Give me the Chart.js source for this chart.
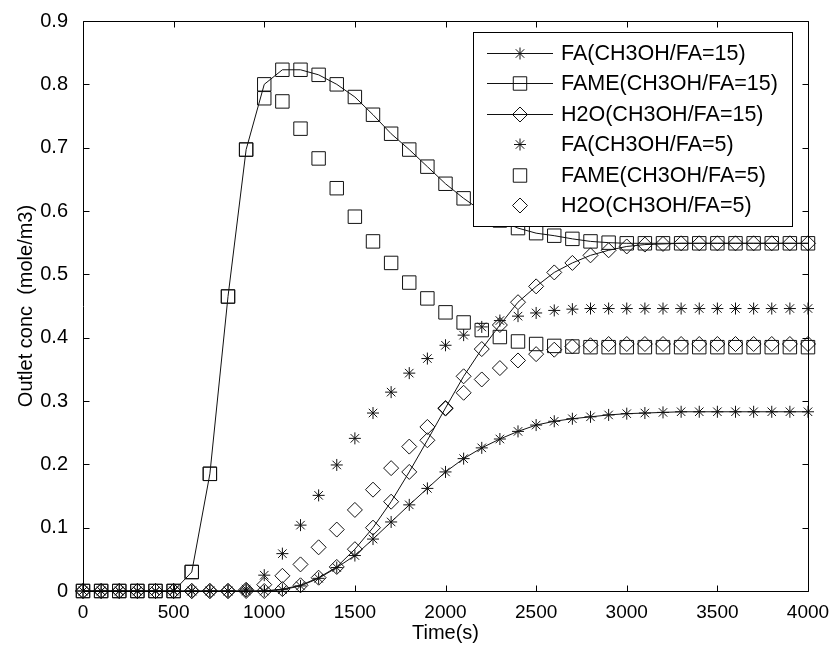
<!DOCTYPE html>
<html lang="en">
<head>
    <meta charset="UTF-8">
    <title>Outlet concentration</title>
    <script src="https://cdn.jsdelivr.net/npm/chart.js"></script>
    <style>
        body { margin: 0; background: #fff; }
        canvas { display: block; }
    </style>
</head>
<body>
    <canvas id="concChart" width="834" height="651"></canvas>
    <script>
        // time points, every 100 s
        const times = [];
        for (let t = 0; t <= 4000; t += 100) times.push(t);

        const fa15 = [0,0,0,0,0,0,0,0,0,0,0,
            0.002,0.008,0.02,0.037,0.056,0.082,0.109,0.136,0.162,0.188,0.209,
            0.226,0.24,0.252,0.262,0.268,0.272,0.275,0.278,0.28,0.281,0.282,
            0.283,0.283,0.283,0.283,0.283,0.283,0.283,0.283];
        const fame15 = [0,0,0,0,0,0,
            0.03,0.185,0.465,0.697,0.80,0.823,0.823,0.815,0.80,0.78,0.752,
            0.722,0.697,0.67,0.643,0.62,0.60,0.585,0.573,0.565,0.561,0.556,
            0.552,0.55,0.549,0.549,0.549,0.549,0.549,0.549,0.549,0.549,0.549,0.549,0.549];
        const h2o15 = [0,0,0,0,0,0,0,0,0,0,0,
            0.003,0.009,0.021,0.038,0.066,0.1,0.141,0.188,0.238,0.289,0.339,
            0.382,0.42,0.456,0.481,0.503,0.518,0.53,0.538,0.544,0.547,0.548,
            0.549,0.549,0.549,0.549,0.549,0.549,0.549,0.549];
        const fa5 = [0,0,0,0,0,0,0,0,0,
            0.003,0.025,0.059,0.104,0.151,0.199,0.241,0.281,0.314,0.344,0.367,
            0.388,0.404,0.417,0.427,0.434,0.439,0.443,0.445,
            0.446,0.446,0.446,0.446,0.446,0.446,0.446,0.446,0.446,0.446,0.446,0.446,0.446];
        const fame5 = [0,0,0,0,0,0,
            0.03,0.185,0.465,0.697,0.778,0.773,0.73,0.683,0.636,0.591,0.552,
            0.518,0.487,0.462,0.44,0.424,0.412,0.401,0.394,0.39,0.387,0.386,
            0.385,0.385,0.385,0.385,0.385,0.385,0.385,0.385,0.385,0.385,0.385,0.385,0.385];
        const h2o5 = [0,0,0,0,0,0,0,0,0,
            0.002,0.01,0.024,0.042,0.069,0.097,0.128,0.16,0.194,0.228,0.259,
            0.288,0.313,0.334,0.352,0.364,0.374,0.381,0.386,0.388,
            0.39,0.39,0.39,0.39,0.39,0.39,0.39,0.39,0.39,0.39,0.39,0.39];

        const labels = ['FA(CH3OH/FA=15)', 'FAME(CH3OH/FA=15)', 'H2O(CH3OH/FA=15)',
                        'FA(CH3OH/FA=5)', 'FAME(CH3OH/FA=5)', 'H2O(CH3OH/FA=5)'];
        const xTicks = [0, 500, 1000, 1500, 2000, 2500, 3000, 3500, 4000];
        const yTicks = [0, 0.1, 0.2, 0.3, 0.4, 0.5, 0.6, 0.7, 0.8, 0.9];

        const FONT = '"Liberation Sans", Arial, Helvetica, sans-serif';
        const INK = '#111';

        function pts(arr) {
            return arr.map((v, i) => ({ x: times[i], y: v }));
        }

        function makeSet(label, arr, style, radius, withLine) {
            return {
                label: label,
                data: pts(arr),
                showLine: withLine,
                borderColor: INK,
                borderWidth: 1,
                tension: 0,
                pointStyle: style,
                pointRadius: radius,
                pointBorderWidth: 1,
                pointBorderColor: INK,
                pointBackgroundColor: 'rgba(0,0,0,0)',
                clip: false
            };
        }

        const sets = [
            makeSet(labels[0], fa15, 'star', 6, true),
            makeSet(labels[1], fame15, 'rect', 9.5, true),
            makeSet(labels[2], h2o15, 'rectRot', 7.5, true),
            makeSet(labels[3], fa5, 'star', 6, false),
            makeSet(labels[4], fame5, 'rect', 9.5, false),
            makeSet(labels[5], h2o5, 'rectRot', 7.5, false)
        ];

        // box around the axes with inward ticks on all four sides
        const axesBox = {
            id: 'axesBox',
            afterDraw(chart) {
                const ctx = chart.ctx;
                const a = chart.chartArea;
                const xs = chart.scales.x, ys = chart.scales.y;
                const L = Math.round(a.left) + 0.5, R = Math.round(a.right) + 0.5;
                const T = Math.round(a.top) + 0.5, B = Math.round(a.bottom) + 0.5;
                ctx.save();
                ctx.strokeStyle = '#000';
                ctx.lineWidth = 1;
                ctx.beginPath();
                ctx.rect(L, T, R - L, B - T);
                const tl = 6;
                xTicks.forEach(v => {
                    const px = Math.round(xs.getPixelForValue(v)) + 0.5;
                    ctx.moveTo(px, B); ctx.lineTo(px, B - tl);
                    ctx.moveTo(px, T); ctx.lineTo(px, T + tl);
                });
                yTicks.forEach(v => {
                    const py = Math.round(ys.getPixelForValue(v)) + 0.5;
                    ctx.moveTo(L, py); ctx.lineTo(L + tl, py);
                    ctx.moveTo(R, py); ctx.lineTo(R - tl, py);
                });
                ctx.stroke();
                ctx.restore();
            }
        };

        // MATLAB-like legend box in the upper right
        const boxLegend = {
            id: 'boxLegend',
            afterDatasetsDraw(chart) {
                const ctx = chart.ctx;
                const x0 = 473.5, y0 = 32.5, w = 319, h = 194;
                ctx.save();
                ctx.fillStyle = '#fff';
                ctx.fillRect(x0, y0, w, h);
                ctx.strokeStyle = '#000';
                ctx.lineWidth = 1;
                ctx.strokeRect(x0, y0, w, h);
                ctx.font = '21.5px ' + FONT;
                ctx.textBaseline = 'middle';
                chart.data.datasets.forEach((ds, i) => {
                    const cy = 53 + i * 30.4;
                    const ly = Math.round(cy) + 0.5;
                    ctx.strokeStyle = INK;
                    ctx.lineWidth = 1;
                    if (ds.showLine) {
                        ctx.beginPath();
                        ctx.moveTo(487, ly);
                        ctx.lineTo(553, ly);
                        ctx.stroke();
                    }
                    ctx.fillStyle = 'rgba(0,0,0,0)';
                    Chart.helpers.drawPoint(ctx, {
                        pointStyle: ds.pointStyle,
                        radius: ds.pointRadius,
                        borderWidth: 1,
                        rotation: 0
                    }, 520, ly);
                    ctx.fillStyle = '#000';
                    ctx.fillText(ds.label, 561, cy + 1);
                });
                ctx.restore();
            }
        };

        new Chart(document.getElementById('concChart'), {
            type: 'scatter',
            data: { datasets: sets },
            options: {
                responsive: false,
                animation: false,
                layout: { padding: { left: 0, right: 26, top: 21, bottom: 0 } },
                plugins: {
                    legend: { display: false },
                    tooltip: { enabled: false }
                },
                scales: {
                    x: {
                        type: 'linear',
                        min: 0,
                        max: 4000,
                        afterBuildTicks: s => { s.ticks = xTicks.map(v => ({ value: v })); },
                        afterFit: s => { s.height = 60; },
                        grid: { display: false },
                        border: { display: false },
                        ticks: {
                            color: '#000',
                            padding: 2,
                            maxRotation: 0,
                            font: { family: FONT, size: 19 },
                            callback: v => String(v)
                        },
                        title: {
                            display: true,
                            text: 'Time(s)',
                            color: '#000',
                            font: { family: FONT, size: 20 },
                            padding: { top: 0, bottom: 6 }
                        }
                    },
                    y: {
                        type: 'linear',
                        min: 0,
                        max: 0.9,
                        afterBuildTicks: s => { s.ticks = yTicks.map(v => ({ value: v })); },
                        afterFit: s => { s.width = 83; },
                        grid: { display: false },
                        border: { display: false },
                        ticks: {
                            color: '#000',
                            padding: 7,
                            font: { family: FONT, size: 20 },
                            callback: v => (v === 0 ? '0' : v.toFixed(1))
                        },
                        title: {
                            display: true,
                            text: 'Outlet conc  (mole/m3)',
                            color: '#000',
                            font: { family: FONT, size: 20 },
                            padding: { top: 14, bottom: 0 }
                        }
                    }
                }
            },
            plugins: [axesBox, boxLegend]
        });
    </script>
</body>
</html>
